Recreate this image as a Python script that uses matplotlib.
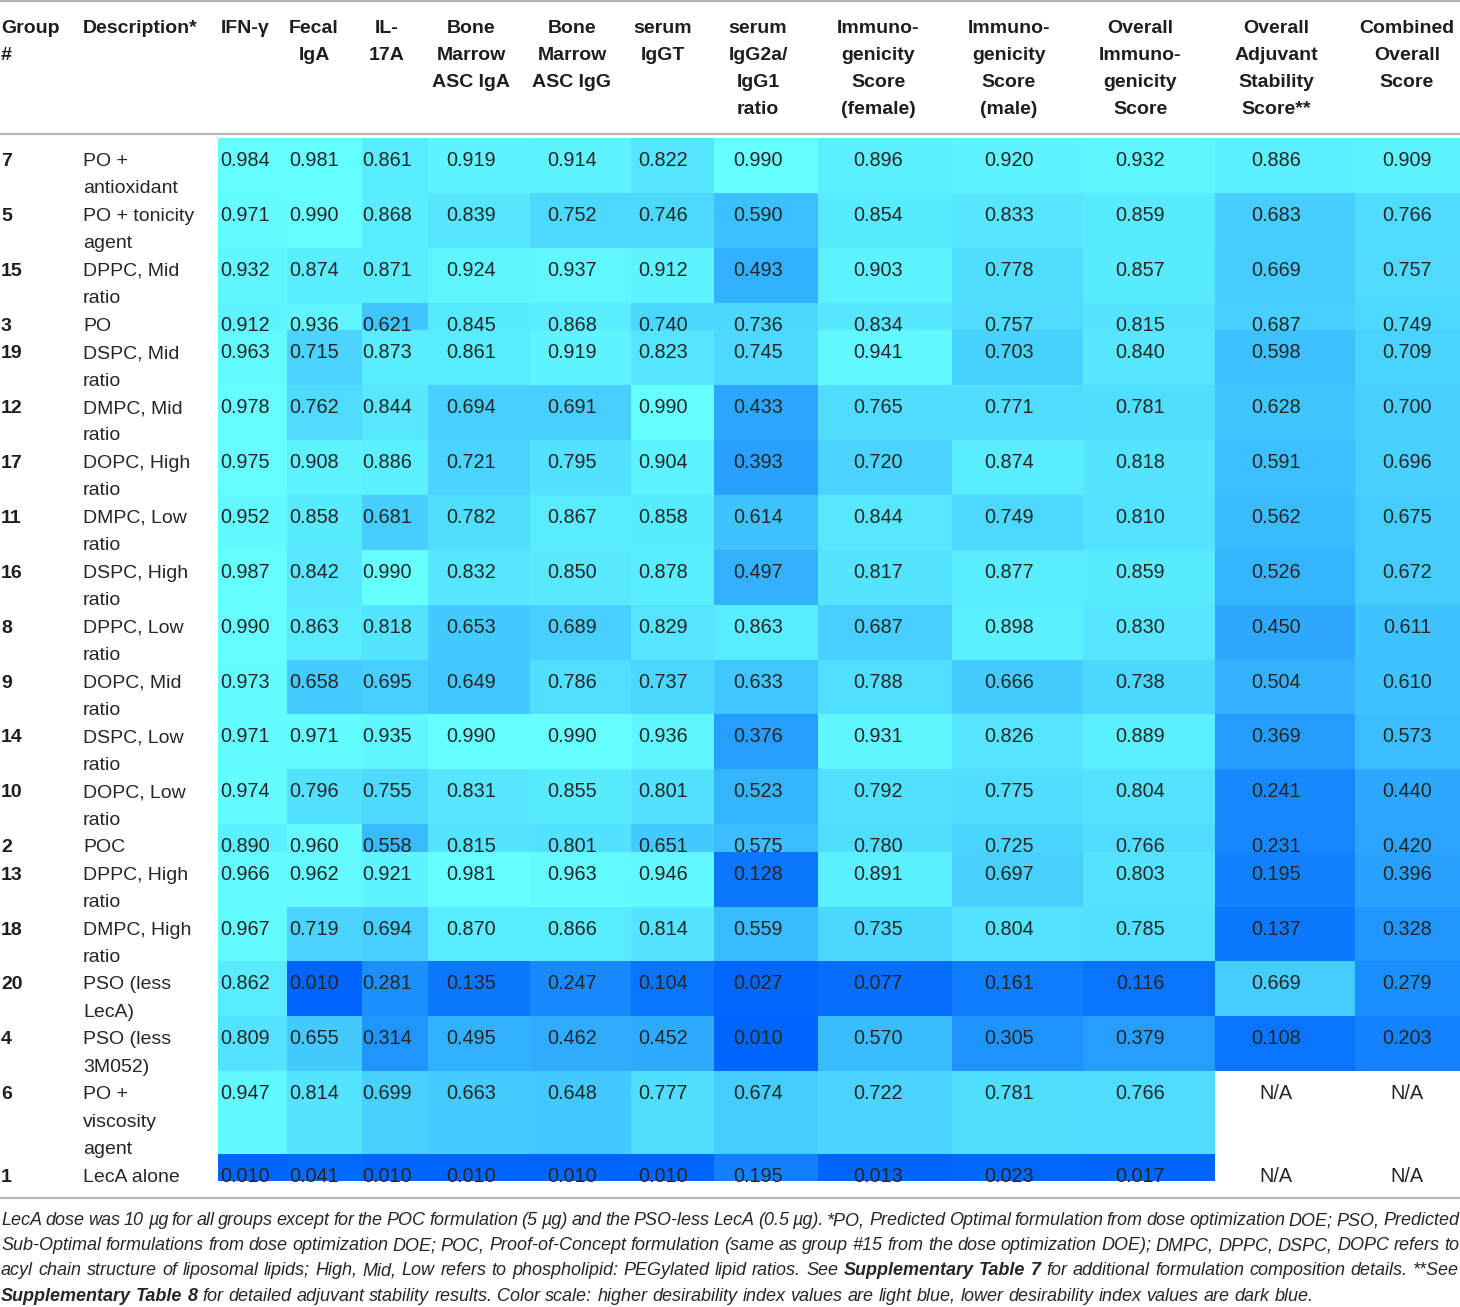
import numpy as np
import matplotlib
matplotlib.use("Agg")
import matplotlib.pyplot as plt
from matplotlib.colors import LinearSegmentedColormap

plt.rcParams['font.family'] = ['Liberation Sans', 'DejaVu Sans']

NA = np.nan

groups = ["7", "5", "15", "3", "19", "12", "17", "11", "16", "8",
          "9", "14", "10", "2", "13", "18", "20", "4", "6", "1"]

descriptions = [
    "PO +\nantioxidant", "PO + tonicity\nagent", "DPPC, Mid\nratio", "PO",
    "DSPC, Mid\nratio", "DMPC, Mid\nratio", "DOPC, High\nratio",
    "DMPC, Low\nratio", "DSPC, High\nratio", "DPPC, Low\nratio",
    "DOPC, Mid\nratio", "DSPC, Low\nratio", "DOPC, Low\nratio", "POC",
    "DPPC, High\nratio", "DMPC, High\nratio", "PSO (less\nLecA)",
    "PSO (less\n3M052)", "PO +\nviscosity\nagent", "LecA alone",
]

headers = [
    "IFN-γ", "Fecal\nIgA", "IL-\n17A", "Bone\nMarrow\nASC IgA",
    "Bone\nMarrow\nASC IgG", "serum\nIgGT", "serum\nIgG2a/\nIgG1\nratio",
    "Immuno-\ngenicity\nScore\n(female)", "Immuno-\ngenicity\nScore\n(male)",
    "Overall\nImmuno-\ngenicity\nScore", "Overall\nAdjuvant\nStability\nScore**",
    "Combined\nOverall\nScore",
]

ifn_gamma = [0.984, 0.971, 0.932, 0.912, 0.963, 0.978, 0.975, 0.952, 0.987, 0.990,
             0.973, 0.971, 0.974, 0.890, 0.966, 0.967, 0.862, 0.809, 0.947, 0.010]
fecal_iga = [0.981, 0.990, 0.874, 0.936, 0.715, 0.762, 0.908, 0.858, 0.842, 0.863,
             0.658, 0.971, 0.796, 0.960, 0.962, 0.719, 0.010, 0.655, 0.814, 0.041]
il_17a = [0.861, 0.868, 0.871, 0.621, 0.873, 0.844, 0.886, 0.681, 0.990, 0.818,
          0.695, 0.935, 0.755, 0.558, 0.921, 0.694, 0.281, 0.314, 0.699, 0.010]
bm_asc_iga = [0.919, 0.839, 0.924, 0.845, 0.861, 0.694, 0.721, 0.782, 0.832, 0.653,
              0.649, 0.990, 0.831, 0.815, 0.981, 0.870, 0.135, 0.495, 0.663, 0.010]
bm_asc_igg = [0.914, 0.752, 0.937, 0.868, 0.919, 0.691, 0.795, 0.867, 0.850, 0.689,
              0.786, 0.990, 0.855, 0.801, 0.963, 0.866, 0.247, 0.462, 0.648, 0.010]
serum_iggt = [0.822, 0.746, 0.912, 0.740, 0.823, 0.990, 0.904, 0.858, 0.878, 0.829,
              0.737, 0.936, 0.801, 0.651, 0.946, 0.814, 0.104, 0.452, 0.777, 0.010]
igg2a_igg1 = [0.990, 0.590, 0.493, 0.736, 0.745, 0.433, 0.393, 0.614, 0.497, 0.863,
              0.633, 0.376, 0.523, 0.575, 0.128, 0.559, 0.027, 0.010, 0.674, 0.195]
immuno_female = [0.896, 0.854, 0.903, 0.834, 0.941, 0.765, 0.720, 0.844, 0.817, 0.687,
                 0.788, 0.931, 0.792, 0.780, 0.891, 0.735, 0.077, 0.570, 0.722, 0.013]
immuno_male = [0.920, 0.833, 0.778, 0.757, 0.703, 0.771, 0.874, 0.749, 0.877, 0.898,
               0.666, 0.826, 0.775, 0.725, 0.697, 0.804, 0.161, 0.305, 0.781, 0.023]
immuno_overall = [0.932, 0.859, 0.857, 0.815, 0.840, 0.781, 0.818, 0.810, 0.859, 0.830,
                  0.738, 0.889, 0.804, 0.766, 0.803, 0.785, 0.116, 0.379, 0.766, 0.017]
stability = [0.886, 0.683, 0.669, 0.687, 0.598, 0.628, 0.591, 0.562, 0.526, 0.450,
             0.504, 0.369, 0.241, 0.231, 0.195, 0.137, 0.669, 0.108, NA, NA]
combined = [0.909, 0.766, 0.757, 0.749, 0.709, 0.700, 0.696, 0.675, 0.672, 0.611,
            0.610, 0.573, 0.440, 0.420, 0.396, 0.328, 0.279, 0.203, NA, NA]

footnote_lines = [
    [("LecA dose was 10 µg for all groups except for the POC formulation (5 µg) and the "
      "PSO-less LecA (0.5 µg). *PO, Predicted Optimal formulation from dose optimization "
      "DOE; PSO, Predicted", False)],
    [("Sub-Optimal formulations from dose optimization DOE; POC, Proof-of-Concept "
      "formulation (same as group #15 from the dose optimization DOE); DMPC, DPPC, DSPC, "
      "DOPC refers to", False)],
    [("acyl chain structure of liposomal lipids; High, Mid, Low refers to phospholipid: "
      "PEGylated lipid ratios. See", False),
     ("Supplementary Table 7", True),
     ("for additional formulation composition details. **See", False)],
    [("Supplementary Table 8", True),
     ("for detailed adjuvant stability results. Color scale: higher desirability index "
      "values are light blue, lower desirability index values are dark blue.", False)],
]

W, H = 1460, 1307
COL_EDGES = [218, 287, 362, 428, 530, 631, 714, 818, 952, 1083, 1215, 1355, 1460]
COL_CENTERS = [245, 314, 387, 471, 572, 663, 758, 878, 1009, 1140, 1276, 1407]
LINE_H = 27.45
TABLE_TOP = 138
TEXT_COLOR = "#262626"
RULE_COLOR = "#b4b4b4"


def row_edges():
    edges = [TABLE_TOP]
    for d in descriptions:
        edges.append(edges[-1] + LINE_H * len(d.split("\n")))
    return np.array(edges)


def draw_justified(fig, ax, segments, y, x0, x1, size, justify=True):
    renderer = fig.canvas.get_renderer()
    words = []
    for text, bold in segments:
        for w in text.split():
            words.append((w, bold))

    probe = ax.text(0, 0, "a a", fontsize=size, style="italic")
    probe2 = ax.text(0, 0, "aa", fontsize=size, style="italic")
    space = (probe.get_window_extent(renderer).width
             - probe2.get_window_extent(renderer).width)
    probe.remove()
    probe2.remove()

    objs = []
    for w, bold in words:
        t = ax.text(x0, y, w, fontsize=size, style="italic",
                    weight="bold" if bold else "normal",
                    ha="left", va="baseline", color=TEXT_COLOR)
        objs.append(t)
    widths = [t.get_window_extent(renderer).width for t in objs]

    if justify and len(objs) > 1:
        gap = (x1 - x0 - sum(widths)) / (len(objs) - 1)
        gap = max(gap, space * 0.5)
    else:
        gap = space
    x = x0
    for t, w in zip(objs, widths):
        t.set_x(x)
        x += w + gap


def main():
    fig = plt.figure(figsize=(W / 100, H / 100), dpi=100)
    ax = fig.add_axes([0, 0, 1, 1])
    ax.set_xlim(0, W)
    ax.set_ylim(H, 0)
    ax.axis("off")

    columns = [ifn_gamma, fecal_iga, il_17a, bm_asc_iga, bm_asc_igg, serum_iggt,
               igg2a_igg1, immuno_female, immuno_male, immuno_overall, stability, combined]
    data = np.array(columns, dtype=float).T
    masked = np.ma.masked_invalid(data)

    cmap = LinearSegmentedColormap.from_list("desir", ["#0064ff", "#66ffff"])
    yedges = row_edges()
    ax.pcolormesh(COL_EDGES, yedges, masked, cmap=cmap, vmin=0.01, vmax=0.99,
                  edgecolors="none")

    # rules
    ax.plot([0, W], [1, 1], color=RULE_COLOR, lw=1.6)
    ax.plot([0, W], [134, 134], color=RULE_COLOR, lw=1.6)
    ax.plot([0, W], [1198, 1198], color=RULE_COLOR, lw=1.6)

    # header
    hfont = dict(fontsize=14, weight="bold", color="#1e1e1e", va="baseline")
    for i, line in enumerate(["Group", "#"]):
        ax.text(1, 33 + 27 * i, line, ha="left", **hfont)
    ax.text(83, 33, "Description*", ha="left", **hfont)
    for cx, head in zip(COL_CENTERS, headers):
        for i, line in enumerate(head.split("\n")):
            ax.text(cx, 33 + 27 * i, line, ha="center", **hfont)

    # body
    for r, (g, desc) in enumerate(zip(groups, descriptions)):
        top = yedges[r]
        ax.text(1, top + 28, g, ha="left", va="baseline", fontsize=14,
                weight="bold", color="#1e1e1e")
        for i, line in enumerate(desc.split("\n")):
            ax.text(83, top + 28 + LINE_H * i, line, ha="left", va="baseline",
                    fontsize=14, color=TEXT_COLOR)
        for c, cx in enumerate(COL_CENTERS):
            v = data[r, c]
            label = "N/A" if np.isnan(v) else f"{v:.3f}"
            ax.text(cx, top + 28, label, ha="center", va="baseline",
                    fontsize=14.3, color=TEXT_COLOR)

    # footnote
    fig.canvas.draw()
    for i, segs in enumerate(footnote_lines):
        draw_justified(fig, ax, segs, 1225 + 25.2 * i, 1, 1459, 13,
                       justify=i < len(footnote_lines) - 1)

    fig.savefig("out.png", dpi=100)
    plt.close(fig)


if __name__ == "__main__":
    main()
